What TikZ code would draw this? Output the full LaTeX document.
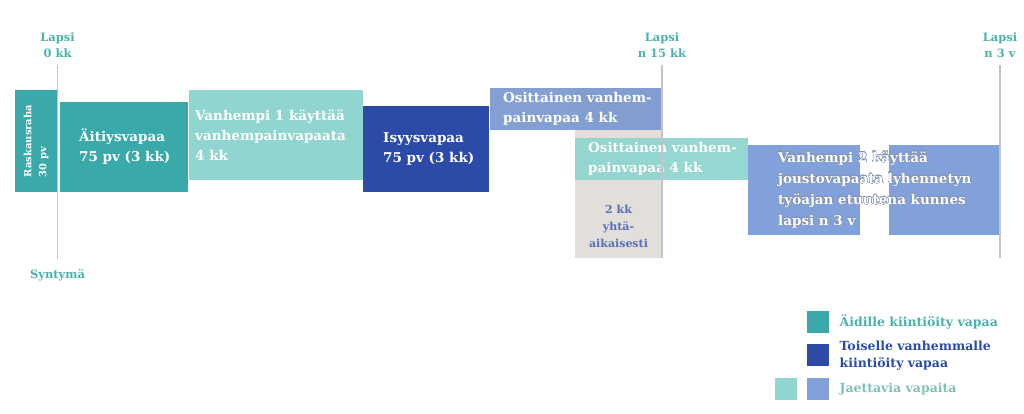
\documentclass[tikz,border=0pt]{standalone}
\usepackage{fontspec}
\setmainfont{DejaVu Serif}
\usepackage{contour}
\contourlength{0.35pt}
\usetikzlibrary{positioning}

\definecolor{aiti}{HTML}{3AA9A9}
\definecolor{jaettuT}{HTML}{90D5CF}
\definecolor{toinen}{HTML}{2C4BA9}
\definecolor{jaettuS}{HTML}{82A1DA}
\definecolor{yhta}{HTML}{E2DFDA}
\definecolor{janaviiva}{HTML}{C6C1CB}
\definecolor{otsikko}{HTML}{4AB2AD}

\newcommand{\reuna}[1]{\contour{jaettuS!55!gray}{#1}}

\tikzset{
  box/.style={anchor=north west, inner sep=0pt, outer sep=0pt},
  boxtext/.style={anchor=west, inner sep=0pt, align=left, text=white, font=\bfseries\fontsize{13.5}{20}\selectfont},
  milestone/.style={align=center, text=otsikko, font=\bfseries\fontsize{11.5}{16}\selectfont},
  timeline/.style={janaviiva, line width=1.5pt},
  legendbox/.style={anchor=north west, inner sep=0pt, minimum size=22},
  legendtext/.style={anchor=west, align=left, inner sep=0pt, font=\bfseries\fontsize{12.5}{17}\selectfont},
}

\begin{document}
\begin{tikzpicture}[x=1pt,y=-1pt]
	\useasboundingbox (0,0) rectangle (1024,413);

	% vapaat
	\node[box, fill=yhta, minimum width=87, minimum height=170] (yhtaikaa) at (575,88) {};
	\node[box, fill=aiti, rotate=90, anchor=center, minimum width=102, minimum height=42, align=left, text=white, font=\bfseries\fontsize{10}{15}\selectfont] (raskaus) at (36,141) {Raskausraha\\30 pv};
	\node[box, fill=aiti, minimum width=128, minimum height=90] (aitiys) at (60,102) {};
	\node[box, fill=jaettuT, minimum width=174, minimum height=90] (vanhempi1) at (189,90) {};
	\node[box, fill=toinen, minimum width=126, minimum height=86] (isyys) at (363,106) {};
	\node[box, fill=jaettuS!95!black, opacity=0.93, minimum width=172, minimum height=42] (osittain1) at (490,88) {};
	\node[box, fill=jaettuT, opacity=0.95, minimum width=173, minimum height=42] (osittain2) at (575,138) {};
	\node[box, fill=jaettuS, minimum width=112, minimum height=90] (jousto1) at (748,145) {};
	\node[box, fill=jaettuS, minimum width=111, minimum height=90] (jousto2) at (889,145) {};

	\node[boxtext, shift={(19,0)}] (aitiysT) at (aitiys.west) {Äitiysvapaa\\75 pv (3 kk)};
	\node[boxtext, shift={(6,0)}] (vanhempi1T) at (vanhempi1.west) {Vanhempi 1 käyttää\\vanhempainvapaata\\4 kk};
	\node[boxtext, shift={(20,0)}] (isyysT) at (isyys.west) {Isyysvapaa\\75 pv (3 kk)};
	\node[boxtext, shift={(13,0)}] (osittain1T) at (osittain1.west) {Osittainen vanhem-\\painvapaa 4 kk};
	\node[boxtext, shift={(13,0)}] (osittain2T) at (osittain2.west) {Osittainen vanhem-\\painvapaa 4 kk};
	\node[boxtext, shift={(30,0)}, font=\bfseries\fontsize{13.5}{21}\selectfont] (joustoT) at (jousto1.west) {\reuna{Vanhempi 2 käyttää}\\\reuna{joustovapaata lyhennetyn}\\\reuna{työajan etuutena kunnes}\\\reuna{lapsi n 3 v}};
	\node[align=center, inner sep=0pt, text=toinen!80!white, font=\bfseries\fontsize{11}{17}\selectfont] (yhtaT) at (618.5,226) {2 kk\\yhtä-\\aikaisesti};

	% aikajana
	\node[milestone] (lapsi0) at (57.5,45) {Lapsi\\0 kk};
	\node[milestone] (lapsi15) at (662,45) {Lapsi\\n 15 kk};
	\node[milestone] (lapsi3v) at (1000,45) {Lapsi\\n 3 v};
	\node[milestone] (syntyma) at (57.5,275) {Syntymä};
	\coordinate (loppu15) at (662,258);
	\coordinate (loppu3v) at (1000,258);

	\draw[timeline] ([yshift=-4]lapsi0.south)--([yshift=7]syntyma.north);
	\draw[timeline] ([yshift=-4]lapsi15.south)--(loppu15);
	\draw[timeline] ([yshift=-4]lapsi3v.south)--(loppu3v);

	% selite
	\node[legendbox, fill=aiti] (selA) at (807,311) {};
	\node[legendbox, fill=toinen] (selB) at (807,344) {};
	\node[legendbox, fill=jaettuT] (selC1) at (775,378) {};
	\node[legendbox, fill=jaettuS] (selC2) at (807,378) {};
	\node[legendtext, text=otsikko, right=10pt of selA] (selAT) {Äidille kiintiöity vapaa};
	\node[legendtext, text=toinen, right=10pt of selB] (selBT) {Toiselle vanhemmalle\\kiintiöity vapaa};
	\node[legendtext, text=jaettuT!90!black, right=10pt of selC2] (selCT) {Jaettavia vapaita};
\end{tikzpicture}
\end{document}
